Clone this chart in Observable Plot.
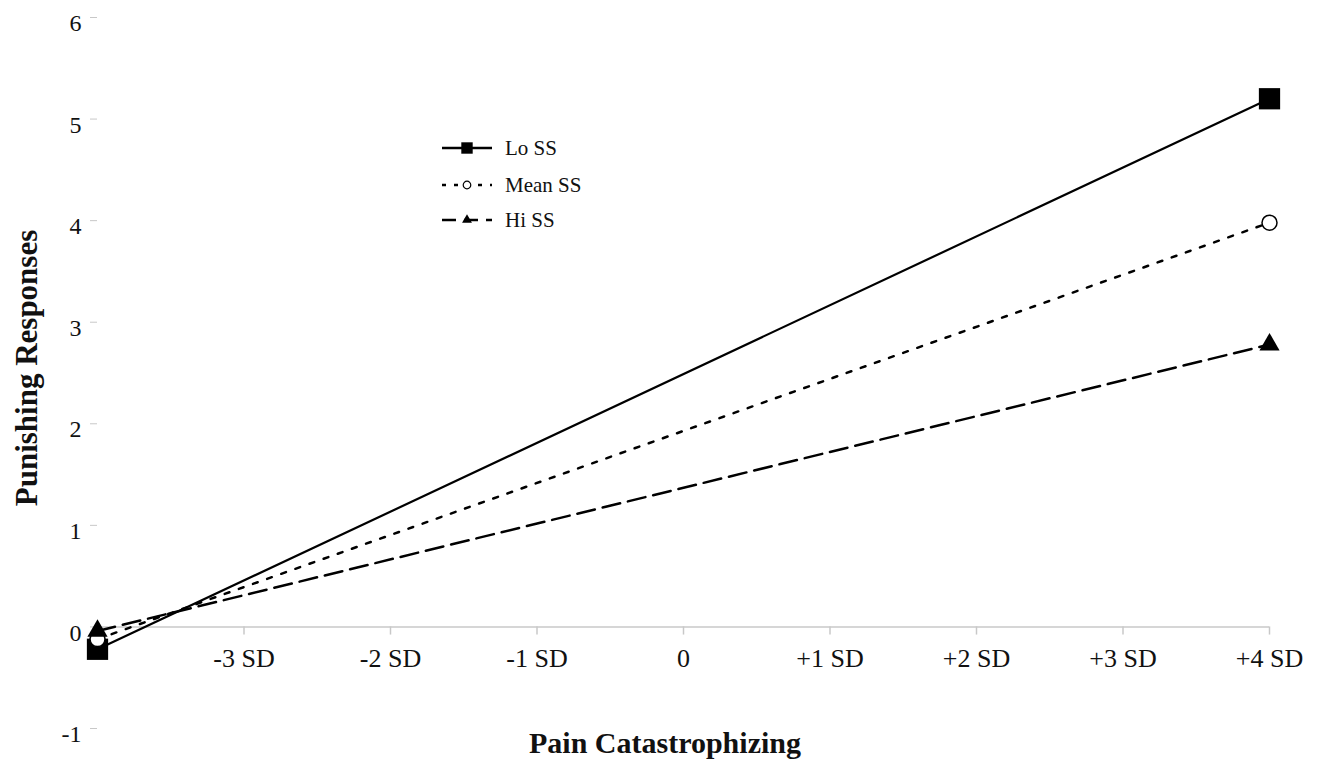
<!DOCTYPE html>
<html>
<head>
<meta charset="utf-8">
<script src="https://cdn.jsdelivr.net/npm/d3@7"></script>
<script src="https://cdn.jsdelivr.net/npm/@observablehq/plot@0.6"></script>
<style>
  html, body { margin: 0; padding: 0; background: #fff; }
  #wrap { position: relative; width: 1332px; height: 767px; font-family: "Liberation Serif", serif; }
  #legend { position: absolute; left: 438px; top: 130px; }
</style>
</head>
<body>
<div id="wrap"><div id="chart"></div><div id="legend"></div></div>
<script>
// Data
const xValues = [-4, 4];
const seriesNames = ["Lo SS", "Mean SS", "Hi SS"];
const loSS = [-0.22, 5.2];
const meanSS = [-0.12, 3.98];
const hiSS = [-0.04, 2.78];
const xTicks = [-4, -3, -2, -1, 0, 1, 2, 3, 4];
const xTickLabels = ["", "-3 SD", "-2 SD", "-1 SD", "0", "+1 SD", "+2 SD", "+3 SD", "+4 SD"];
const yTicks = [-1, 0, 1, 2, 3, 4, 5, 6];
const yTickLabels = ["-1", "0", "1", "2", "3", "4", "5", "6"];

const styles = {
  "Lo SS": {dash: null, width: 2.2, symbol: "square", r: 12, fill: "black"},
  "Mean SS": {dash: "5,10", width: 2.5, symbol: "circle", r: 7.5, fill: "white"},
  "Hi SS": {dash: "18,8", width: 2.5, symbol: "triangle", r: 7.5, fill: "black"}
};

const rows = [];
[loSS, meanSS, hiSS].forEach((vals, i) => {
  vals.forEach((v, j) => rows.push({series: seriesNames[i], x: xValues[j], y: v}));
});
const xTickRows = xTicks.map((t, i) => ({x: t, label: xTickLabels[i]}));
const yTickRows = yTicks.map((t, i) => ({y: t, label: yTickLabels[i]}));

const marks = [
  Plot.ruleY([0], {stroke: "#c8c8c8", strokeWidth: 1.5}),
  Plot.ruleX(xTickRows, {x: "x", y1: 0, y2: -0.08, stroke: "#c8c8c8", strokeWidth: 1.5}),
  Plot.text(xTickRows, {x: "x", y: 0, text: "label", dy: 32, fontSize: 26, fill: "#111"}),
  Plot.axisY({ticks: yTicks, tickSize: 7, tickFormat: () => "", stroke: "#c8c8c8", label: null}),
  Plot.text(yTickRows, {x: -4, y: "y", text: "label", dx: -16, dy: 6, textAnchor: "end", fontSize: 24, fill: "#111"})
];
for (const s of seriesNames) {
  const st = styles[s];
  const d = rows.filter(r => r.series === s);
  marks.push(Plot.line(d, {x: "x", y: "y", stroke: "black", strokeWidth: st.width, strokeDasharray: st.dash}));
}
for (const s of seriesNames) {
  const st = styles[s];
  const d = rows.filter(r => r.series === s);
  marks.push(Plot.dot(d, {x: "x", y: "y", symbol: () => st.symbol, r: st.r, fill: st.fill, stroke: "black", strokeWidth: st.symbol === "circle" ? 1.5 : 0}));
}

const chart = Plot.plot({
  width: 1332,
  height: 767,
  marginLeft: 97,
  marginRight: 63,
  marginTop: 17,
  marginBottom: 39,
  style: {fontFamily: "Liberation Serif, serif", fontSize: "20px", background: "white", color: "#111", overflow: "visible"},
  x: {domain: [-4, 4], axis: null},
  y: {domain: [-1, 6], axis: null},
  symbol: {type: "identity"},
  marks
});
document.getElementById("chart").appendChild(chart);

// Axis titles
const svg = d3.select(chart);
svg.append("text").attr("x", 665).attr("y", 753).attr("text-anchor", "middle")
  .attr("font-family", "Liberation Serif, serif").attr("font-weight", "bold").attr("font-size", 30)
  .attr("fill", "#111").text("Pain Catastrophizing");
svg.append("text").attr("transform", "translate(37,368) rotate(-90)").attr("text-anchor", "middle")
  .attr("font-family", "Liberation Serif, serif").attr("font-weight", "bold").attr("font-size", 31)
  .attr("fill", "#111").text("Punishing Responses");

// Legend
const lg = d3.select("#legend").append("svg").attr("width", 200).attr("height", 110);
const rowY = [18, 55, 90];
seriesNames.forEach((s, i) => {
  const st = styles[s];
  const g = lg.append("g").attr("transform", `translate(0,${rowY[i]})`);
  g.append("line").attr("x1", 4).attr("x2", 54).attr("y1", 0).attr("y2", 0)
    .attr("stroke", "black").attr("stroke-width", 2.5)
    .attr("stroke-dasharray", i === 0 ? null : (i === 1 ? "4,8" : "14,8"));
  const sym = st.symbol === "square" ? d3.symbolSquare : st.symbol === "circle" ? d3.symbolCircle : d3.symbolTriangle2;
  const size = st.symbol === "square" ? 130 : st.symbol === "circle" ? 45 : 70;
  g.append("path").attr("d", d3.symbol(sym, size)()).attr("transform", "translate(29,0)")
    .attr("fill", st.fill).attr("stroke", "black").attr("stroke-width", st.symbol === "circle" ? 1.2 : 0);
  g.append("text").attr("x", 67).attr("y", 7).attr("font-family", "Liberation Serif, serif")
    .attr("font-size", 21).attr("fill", "#111").text(s);
});
</script>
</body>
</html>
